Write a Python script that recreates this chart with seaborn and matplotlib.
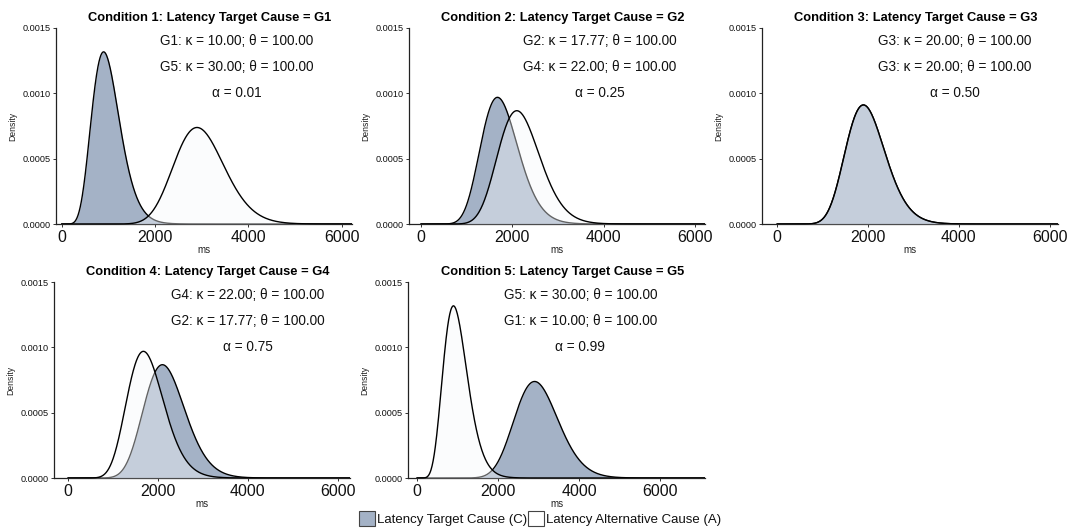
import math
import numpy as np
import pandas as pd
import matplotlib
matplotlib.use("Agg")
import matplotlib.pyplot as plt
from matplotlib.patches import Patch
import seaborn as sns

sns.set_theme(style="ticks")
plt.rcParams['font.family'] = ['Liberation Sans', 'DejaVu Sans']

# ---- data ----
conditions = [1, 2, 3, 4, 5]
target_names = ["G1", "G2", "G3", "G4", "G5"]
target_kappa = [10.00, 17.77, 20.00, 22.00, 30.00]
target_theta = [100.00, 100.00, 100.00, 100.00, 100.00]
alt_names = ["G5", "G4", "G3", "G2", "G1"]
alt_kappa = [30.00, 22.00, 20.00, 17.77, 10.00]
alt_theta = [100.00, 100.00, 100.00, 100.00, 100.00]
alphas = [0.01, 0.25, 0.50, 0.75, 0.99]
x_ticks = [0, 2000, 4000, 6000]
y_ticks = [0.0000, 0.0005, 0.0010, 0.0015]
legend_labels = ["Latency Target Cause (C)", "Latency Alternative Cause (A)"]

# ---- style / layout ----
C_FILL = "#a4b2c6"
A_FILL = "#f7f9fc"
A_ALPHA = 0.4
W, H = 1069, 532
# axes rectangles in pixels: (left, top, right, bottom)
rects = [(56, 28, 352, 224), (409, 28, 705, 224), (762, 28, 1058, 224),
         (54, 282, 350, 478), (408, 282, 705, 478)]
xlims = [(-120, 6220), (-260, 6220), (-330, 6180), (-310, 6270), (-220, 7100)]
text_xfrac = [0.61, 0.645, 0.65, 0.655, 0.58]


def gamma_pdf(x, k, theta):
    x = np.asarray(x, dtype=float)
    out = np.zeros_like(x)
    m = x > 0
    out[m] = np.exp((k - 1) * np.log(x[m]) - x[m] / theta - math.lgamma(k) - k * math.log(theta))
    return out


fig = plt.figure(figsize=(W / 100, H / 100), dpi=100)

for i, cond in enumerate(conditions):
    l, t, r, b = rects[i]
    ax = fig.add_axes([l / W, 1 - b / H, (r - l) / W, (b - t) / H])
    xs = np.linspace(0, xlims[i][1], 800)
    df = pd.DataFrame({
        "ms": np.concatenate([xs, xs]),
        "Density": np.concatenate([gamma_pdf(xs, target_kappa[i], target_theta[i]),
                                   gamma_pdf(xs, alt_kappa[i], alt_theta[i])]),
        "cause": ["C"] * len(xs) + ["A"] * len(xs),
    })
    dc = df[df.cause == "C"]
    da = df[df.cause == "A"]
    ax.fill_between(dc["ms"], 0, dc["Density"], color=C_FILL, linewidth=0, zorder=1)
    sns.lineplot(data=dc, x="ms", y="Density", ax=ax, color="black", linewidth=1.0,
                 estimator=None, sort=False, zorder=2)
    ax.fill_between(da["ms"], 0, da["Density"], color=A_FILL, alpha=A_ALPHA, linewidth=0, zorder=3)
    sns.lineplot(data=da, x="ms", y="Density", ax=ax, color="black", linewidth=1.0,
                 estimator=None, sort=False, zorder=4)

    ax.set_xlim(*xlims[i])
    ax.set_ylim(0, 0.0015)
    ax.set_xticks(x_ticks)
    ax.set_xticklabels([str(v) for v in x_ticks], fontsize=11.5, color="#111111")
    ax.set_yticks(y_ticks)
    ax.set_yticklabels([f"{v:.4f}" for v in y_ticks], fontsize=6.6, color="#111111")
    ax.set_xlabel("ms", fontsize=7, labelpad=0, color="#222222")
    ax.set_ylabel("Density", fontsize=6.2, labelpad=4, color="#222222")
    ax.tick_params(axis="both", length=2.5, width=0.7, pad=1.5, colors="#333333")
    ax.tick_params(axis="x", labelcolor="#111111")
    ax.tick_params(axis="y", labelcolor="#111111")
    sns.despine(ax=ax)
    for s in ("left", "bottom"):
        ax.spines[s].set_color("#222222")
        ax.spines[s].set_linewidth(0.9)
    ax.set_title(f"Condition {cond}: Latency Target Cause = {target_names[i]}",
                 fontsize=9.3, fontweight="bold", pad=5, x=0.52, color="black")

    tx = text_xfrac[i]
    fs = 9.8
    ax.text(tx, 0.00140 / 0.0015, f"{target_names[i]}: \u03ba = {target_kappa[i]:.2f}; \u03b8 = {target_theta[i]:.2f}",
            transform=ax.transAxes, ha="center", va="center", fontsize=fs, color="#111111")
    ax.text(tx, 0.00120 / 0.0015, f"{alt_names[i]}: \u03ba = {alt_kappa[i]:.2f}; \u03b8 = {alt_theta[i]:.2f}",
            transform=ax.transAxes, ha="center", va="center", fontsize=fs, color="#111111")
    ax.text(tx, 0.00100 / 0.0015, f"\u03b1 = {alphas[i]:.2f}",
            transform=ax.transAxes, ha="center", va="center", fontsize=fs, color="#111111")

handles = [Patch(facecolor=C_FILL, edgecolor="#444444", linewidth=0.8),
           Patch(facecolor="white", edgecolor="#444444", linewidth=0.8)]
fig.legend(handles, legend_labels, loc="center", bbox_to_anchor=(0.505, 0.025), ncol=2,
           frameon=False, fontsize=9.5, handlelength=1.2, handleheight=1.3,
           handletextpad=0.15, columnspacing=0.1, borderaxespad=0, borderpad=0,
           labelcolor="#111111")

fig.savefig("out.png", dpi=100, facecolor="white")
